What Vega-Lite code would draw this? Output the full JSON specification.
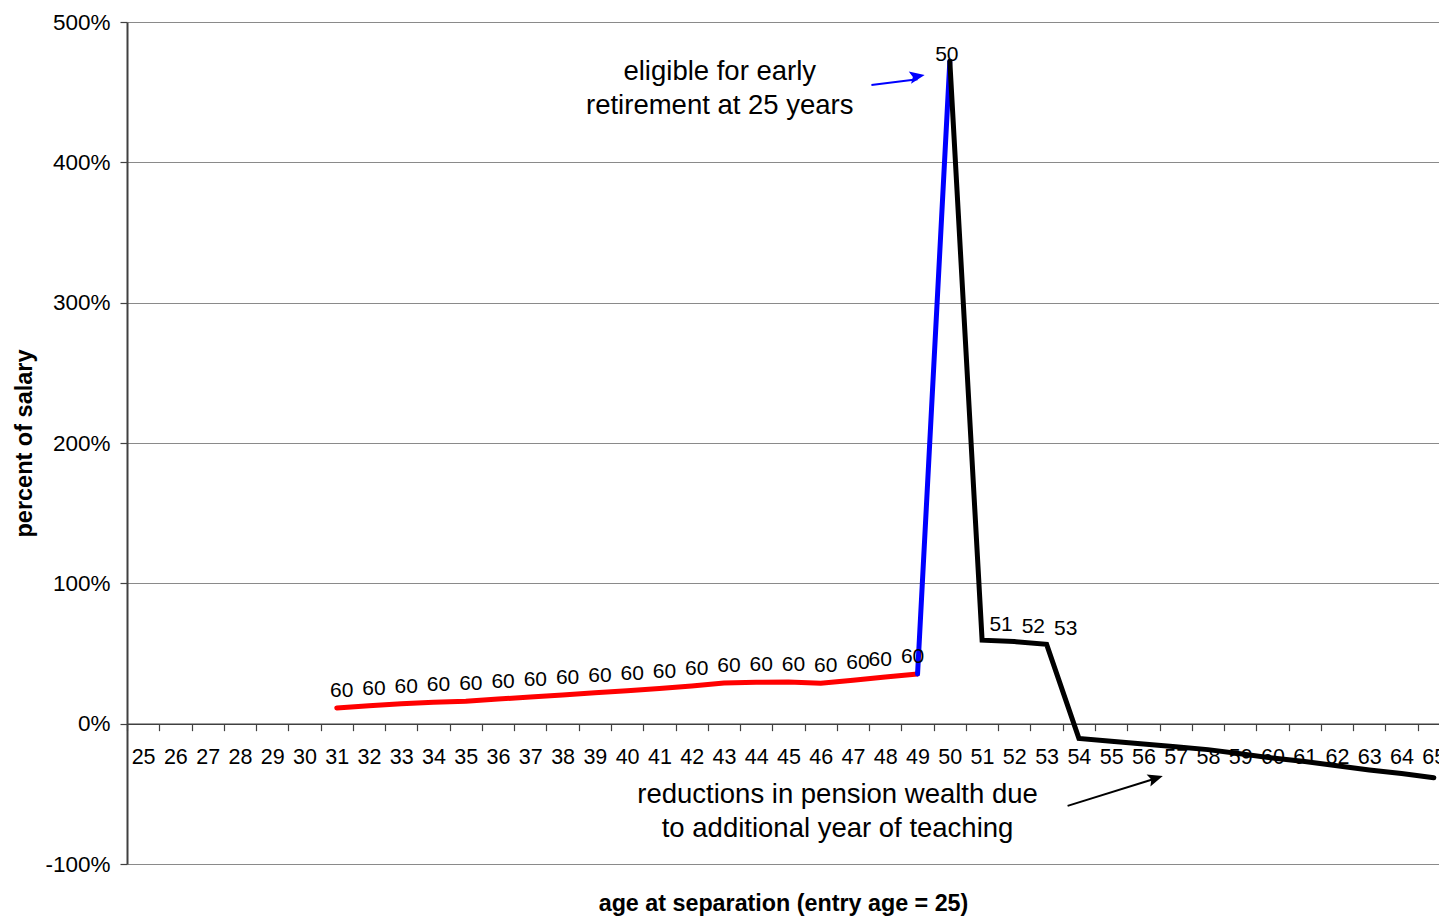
{
  "$schema": "https://vega.github.io/schema/vega-lite/v6.json",
  "width": 1312,
  "height": 842,
  "autosize": {"type": "none"},
  "padding": {"left": 127, "top": 22, "right": 0, "bottom": 54},
  "background": "white",
  "config": {
    "view": {"stroke": null},
    "font": "Liberation Sans",
    "axis": {"labelColor": "#000000", "titleColor": "#000000", "labelFont": "Liberation Sans", "titleFont": "Liberation Sans"}
  },
  "datasets": {
    "series": [
      {"age": 31, "pct": 0.112, "seg": "red"},
      {"age": 32, "pct": 0.127, "seg": "red"},
      {"age": 33, "pct": 0.142, "seg": "red"},
      {"age": 34, "pct": 0.153, "seg": "red"},
      {"age": 35, "pct": 0.16, "seg": "red"},
      {"age": 36, "pct": 0.175, "seg": "red"},
      {"age": 37, "pct": 0.19, "seg": "red"},
      {"age": 38, "pct": 0.205, "seg": "red"},
      {"age": 39, "pct": 0.22, "seg": "red"},
      {"age": 40, "pct": 0.235, "seg": "red"},
      {"age": 41, "pct": 0.25, "seg": "red"},
      {"age": 42, "pct": 0.268, "seg": "red"},
      {"age": 43, "pct": 0.29, "seg": "red"},
      {"age": 44, "pct": 0.295, "seg": "red"},
      {"age": 45, "pct": 0.297, "seg": "red"},
      {"age": 46, "pct": 0.288, "seg": "red"},
      {"age": 47, "pct": 0.31, "seg": "red"},
      {"age": 48, "pct": 0.332, "seg": "red"},
      {"age": 49, "pct": 0.354, "seg": "red"},
      {"age": 49, "pct": 0.354, "seg": "blue"},
      {"age": 50, "pct": 4.72, "seg": "blue"},
      {"age": 50, "pct": 4.72, "seg": "black"},
      {"age": 51, "pct": 0.595, "seg": "black"},
      {"age": 52, "pct": 0.585, "seg": "black"},
      {"age": 53, "pct": 0.565, "seg": "black"},
      {"age": 54, "pct": -0.105, "seg": "black"},
      {"age": 55, "pct": -0.125, "seg": "black"},
      {"age": 56, "pct": -0.145, "seg": "black"},
      {"age": 57, "pct": -0.165, "seg": "black"},
      {"age": 58, "pct": -0.185, "seg": "black"},
      {"age": 59, "pct": -0.215, "seg": "black"},
      {"age": 60, "pct": -0.245, "seg": "black"},
      {"age": 61, "pct": -0.27, "seg": "black"},
      {"age": 62, "pct": -0.3, "seg": "black"},
      {"age": 63, "pct": -0.33, "seg": "black"},
      {"age": 64, "pct": -0.355, "seg": "black"},
      {"age": 65, "pct": -0.385, "seg": "black"}
    ],
    "labels": [
      {"age": 31, "pct": 0.112, "label": "60"},
      {"age": 32, "pct": 0.127, "label": "60"},
      {"age": 33, "pct": 0.142, "label": "60"},
      {"age": 34, "pct": 0.153, "label": "60"},
      {"age": 35, "pct": 0.16, "label": "60"},
      {"age": 36, "pct": 0.175, "label": "60"},
      {"age": 37, "pct": 0.19, "label": "60"},
      {"age": 38, "pct": 0.205, "label": "60"},
      {"age": 39, "pct": 0.22, "label": "60"},
      {"age": 40, "pct": 0.235, "label": "60"},
      {"age": 41, "pct": 0.25, "label": "60"},
      {"age": 42, "pct": 0.268, "label": "60"},
      {"age": 43, "pct": 0.29, "label": "60"},
      {"age": 44, "pct": 0.295, "label": "60"},
      {"age": 45, "pct": 0.297, "label": "60"},
      {"age": 46, "pct": 0.288, "label": "60"},
      {"age": 47, "pct": 0.31, "label": "60"},
      {"age": 48, "pct": 0.332, "label": "60"},
      {"age": 49, "pct": 0.354, "label": "60"},
      {"age": 50, "pct": 4.72, "label": "50"},
      {"age": 51, "pct": 0.595, "label": "51"},
      {"age": 52, "pct": 0.585, "label": "52"},
      {"age": 53, "pct": 0.565, "label": "53"}
    ],
    "notes": [
      {"x": 42.87, "y": 4.644, "text": "eligible for early|retirement at 25 years"},
      {"x": 46.52, "y": -0.508, "text": "reductions in pension wealth due|to additional year of teaching"}
    ],
    "arrows": [
      {"id": "blue", "x": 47.57, "y": 4.551, "x2": 49.0, "y2": 4.592},
      {"id": "black", "x": 53.65, "y": -0.586, "x2": 56.3, "y2": -0.396}
    ],
    "heads": [
      {"id": "blue", "x": 49.22, "y": 4.623},
      {"id": "black", "x": 56.6, "y": -0.373}
    ]
  },
  "layer": [
    {
      "data": {"name": "series"},
      "mark": {"type": "line", "strokeWidth": 5, "strokeCap": "round", "strokeJoin": "miter"},
      "encoding": {
        "x": {
          "field": "age", "type": "quantitative",
          "scale": {"domain": [24.5, 65.16], "nice": false, "zero": false},
          "axis": {
            "values": [24.5,25.5,26.5,27.5,28.5,29.5,30.5,31.5,32.5,33.5,34.5,35.5,36.5,37.5,38.5,39.5,40.5,41.5,42.5,43.5,44.5,45.5,46.5,47.5,48.5,49.5,50.5,51.5,52.5,53.5,54.5,55.5,56.5,57.5,58.5,59.5,60.5,61.5,62.5,63.5,64.5],
            "tickCount": 200,
            "labelExpr": "format(datum.value + 0.5, 'd')",
            "labelOffset": 16.1,
            "labelOverlap": false,
            "labelFlush": false,
            "labelBound": false,
            "labelFontSize": 21.5,
            "labelPadding": 16,
            "tickSize": 7,
            "tickColor": "#404040",
            "tickWidth": 1.2,
            "domainColor": "#404040",
            "domainWidth": 1.5,
            "grid": false,
            "offset": -140.33,
            "title": "age at separation (entry age = 25)",
            "titleFontSize": 23.3,
            "titleFontWeight": "bold",
            "titlePadding": 124
          }
        },
        "y": {
          "field": "pct", "type": "quantitative",
          "scale": {"domain": [-1, 5], "nice": false, "zero": false},
          "axis": {
            "values": [-1, 0, 1, 2, 3, 4, 5],
            "labelExpr": "replace(format(datum.value, '.0%'), '\u2212', '-')",
            "labelFontSize": 22.5,
            "labelPadding": 10,
            "tickSize": 7,
            "tickColor": "#404040",
            "tickWidth": 1.2,
            "domainColor": "#404040",
            "domainWidth": 2,
            "grid": true,
            "gridColor": "#8a8a8a",
            "gridWidth": 1,
            "title": "percent of salary",
            "titleFontSize": 23.5,
            "titleFontWeight": "bold",
            "titlePadding": 8
          }
        },
        "color": {
          "field": "seg", "type": "nominal",
          "scale": {"domain": ["red", "blue", "black"], "range": ["#ff0000", "#0000ff", "#000000"]},
          "legend": null
        },
        "order": {"field": "age", "type": "quantitative"}
      }
    },
    {
      "data": {"name": "labels"},
      "transform": [{"filter": "datum.age <= 47"}],
      "mark": {"type": "text", "fontSize": 21, "dx": 5, "dy": -17, "align": "center", "baseline": "middle", "color": "#000000"},
      "encoding": {
        "x": {"field": "age", "type": "quantitative"},
        "y": {"field": "pct", "type": "quantitative"},
        "text": {"field": "label"}
      }
    },
    {
      "data": {"name": "labels"},
      "transform": [{"filter": "datum.age == 48 || datum.age == 49"}],
      "mark": {"type": "text", "fontSize": 21, "dx": -5, "dy": -17, "align": "center", "baseline": "middle", "color": "#000000"},
      "encoding": {
        "x": {"field": "age", "type": "quantitative"},
        "y": {"field": "pct", "type": "quantitative"},
        "text": {"field": "label"}
      }
    },
    {
      "data": {"name": "labels"},
      "transform": [{"filter": "datum.age == 50"}],
      "mark": {"type": "text", "fontSize": 21, "dx": -3, "dy": -6, "align": "center", "baseline": "middle", "color": "#000000"},
      "encoding": {
        "x": {"field": "age", "type": "quantitative"},
        "y": {"field": "pct", "type": "quantitative"},
        "text": {"field": "label"}
      }
    },
    {
      "data": {"name": "labels"},
      "transform": [{"filter": "datum.age >= 51"}],
      "mark": {"type": "text", "fontSize": 21, "dx": 19, "dy": -15, "align": "center", "baseline": "middle", "color": "#000000"},
      "encoding": {
        "x": {"field": "age", "type": "quantitative"},
        "y": {"field": "pct", "type": "quantitative"},
        "text": {"field": "label"}
      }
    },
    {
      "data": {"name": "notes"},
      "mark": {"type": "text", "fontSize": 27.5, "lineBreak": "|", "lineHeight": 34, "align": "center", "baseline": "middle", "color": "#000000"},
      "encoding": {
        "x": {"field": "x", "type": "quantitative"},
        "y": {"field": "y", "type": "quantitative"},
        "text": {"field": "text"}
      }
    },
    {
      "data": {"name": "arrows"},
      "mark": {"type": "rule", "strokeWidth": 2},
      "encoding": {
        "x": {"field": "x", "type": "quantitative"},
        "y": {"field": "y", "type": "quantitative"},
        "x2": {"field": "x2"},
        "y2": {"field": "y2"},
        "color": {"field": "id", "type": "nominal", "scale": {"domain": ["red", "blue", "black"], "range": ["#ff0000", "#0000ff", "#000000"]}, "legend": null}
      }
    },
    {
      "data": {"name": "heads"},
      "transform": [{"filter": "datum.id == 'blue'"}],
      "mark": {"type": "point", "shape": "M 0 0 L -1 -0.42 L -0.8 0 L -1 0.42 Z", "size": 900, "angle": 349.4, "filled": true, "opacity": 1, "color": "#0000ff"},
      "encoding": {
        "x": {"field": "x", "type": "quantitative"},
        "y": {"field": "y", "type": "quantitative"}
      }
    },
    {
      "data": {"name": "heads"},
      "transform": [{"filter": "datum.id == 'black'"}],
      "mark": {"type": "point", "shape": "M 0 0 L -1 -0.42 L -0.8 0 L -1 0.42 Z", "size": 900, "angle": 342.5, "filled": true, "opacity": 1, "color": "#000000"},
      "encoding": {
        "x": {"field": "x", "type": "quantitative"},
        "y": {"field": "y", "type": "quantitative"}
      }
    }
  ]
}
